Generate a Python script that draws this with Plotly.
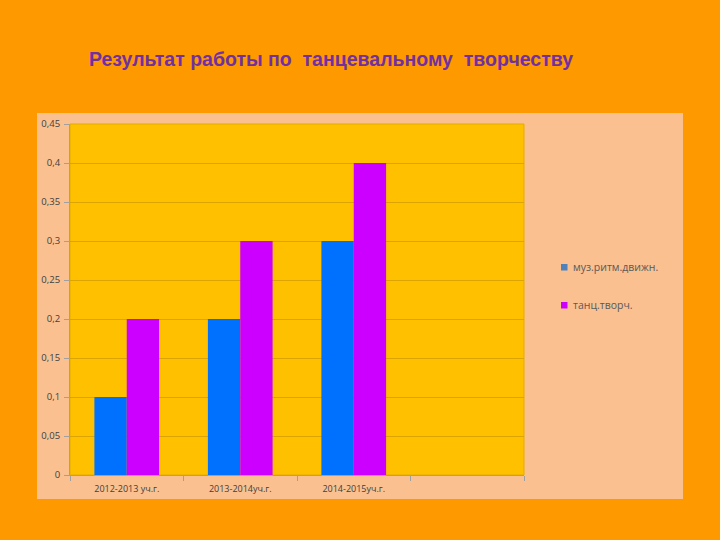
import plotly.graph_objects as go

categories = ["2012-2013 уч.г.", "2013-2014уч.г.", "2014-2015уч.г.", " "]
muz_ritm = [0.1, 0.2, 0.3, None]
tanc_tvorch = [0.2, 0.3, 0.4, None]
series_names = ["муз.ритм.движн.", "танц.творч."]
bar_colors = ["#0070FF", "#CC00FF"]
legend_colors = ["#4F81BD", "#CC00FF"]
y_ticks = [0, 0.05, 0.1, 0.15, 0.2, 0.25, 0.3, 0.35, 0.4, 0.45]

fig = go.Figure()
for name, vals, col in zip(series_names, [muz_ritm, tanc_tvorch], bar_colors):
    fig.add_trace(go.Bar(x=categories, y=vals, name=name, marker_color=col,
                         marker_line_width=0, showlegend=False))

# plot area coords: x 70-524, y 124-475
W, H = 454, 351
def px(x): return (x - 70) / W
def py(y): return (475 - y) / H

shapes = [
    dict(type="rect", xref="paper", yref="paper", x0=px(37), x1=px(683),
         y0=py(499), y1=py(113), fillcolor="#FAC090", line_width=0, layer="below"),
    dict(type="rect", xref="paper", yref="paper", x0=0, x1=1, y0=0, y1=1,
         fillcolor="#FFC000", line=dict(color="#E3AC00", width=1), layer="below"),
]
annotations = [
    dict(text="Результат работы по  танцевальному  творчеству", xref="paper", yref="paper",
         x=px(87), y=py(59), xanchor="left", yanchor="middle", showarrow=False,
         font=dict(family="Liberation Sans", size=19.5, color="#7030A0", weight="bold")),
]
# legend (drawn as markers + text)
legend_y = [267, 305]
for name, col, ly in zip(series_names, legend_colors, legend_y):
    shapes.append(dict(type="rect", xref="paper", yref="paper", x0=px(561), x1=px(567.5),
                       y0=py(ly + 3.5), y1=py(ly - 3), fillcolor=col, line_width=0))
    annotations.append(dict(text=name, xref="paper", yref="paper", x=px(571), y=py(ly),
                            xanchor="left", yanchor="middle", showarrow=False,
                            font=dict(family="Open Sans", size=10.5, color="#595959")))

fig.update_layout(
    width=720, height=540,
    margin=dict(l=70, r=196, t=124, b=65),
    paper_bgcolor="#FF9900",
    plot_bgcolor="rgba(0,0,0,0)",
    separators=", ",
    barmode="group",
    bargap=0.43,
    bargroupgap=0,
    showlegend=False,
    font=dict(family="Open Sans", size=10, color="#404040"),
    shapes=shapes,
    annotations=annotations,
)
fig.update_xaxes(type="category", tickson="boundaries", ticks="outside", ticklen=5,
                 tickcolor="#A0A0A0", showline=True, linecolor="#A0A0A0", linewidth=1,
                 showgrid=False, range=[-0.5, 3.5], tickfont=dict(size=9),
                 ticklabelstandoff=5)
fig.update_yaxes(range=[0, 0.45], tickvals=y_ticks, ticks="outside", ticklen=5,
                 tickcolor="#A0A0A0", showline=True, linecolor="#A0A0A0", linewidth=1,
                 showgrid=True, gridcolor="#DDA400", gridwidth=1, zeroline=False,
                 tickfont=dict(size=9.5), ticklabelstandoff=2)

fig.write_html("out.html")
